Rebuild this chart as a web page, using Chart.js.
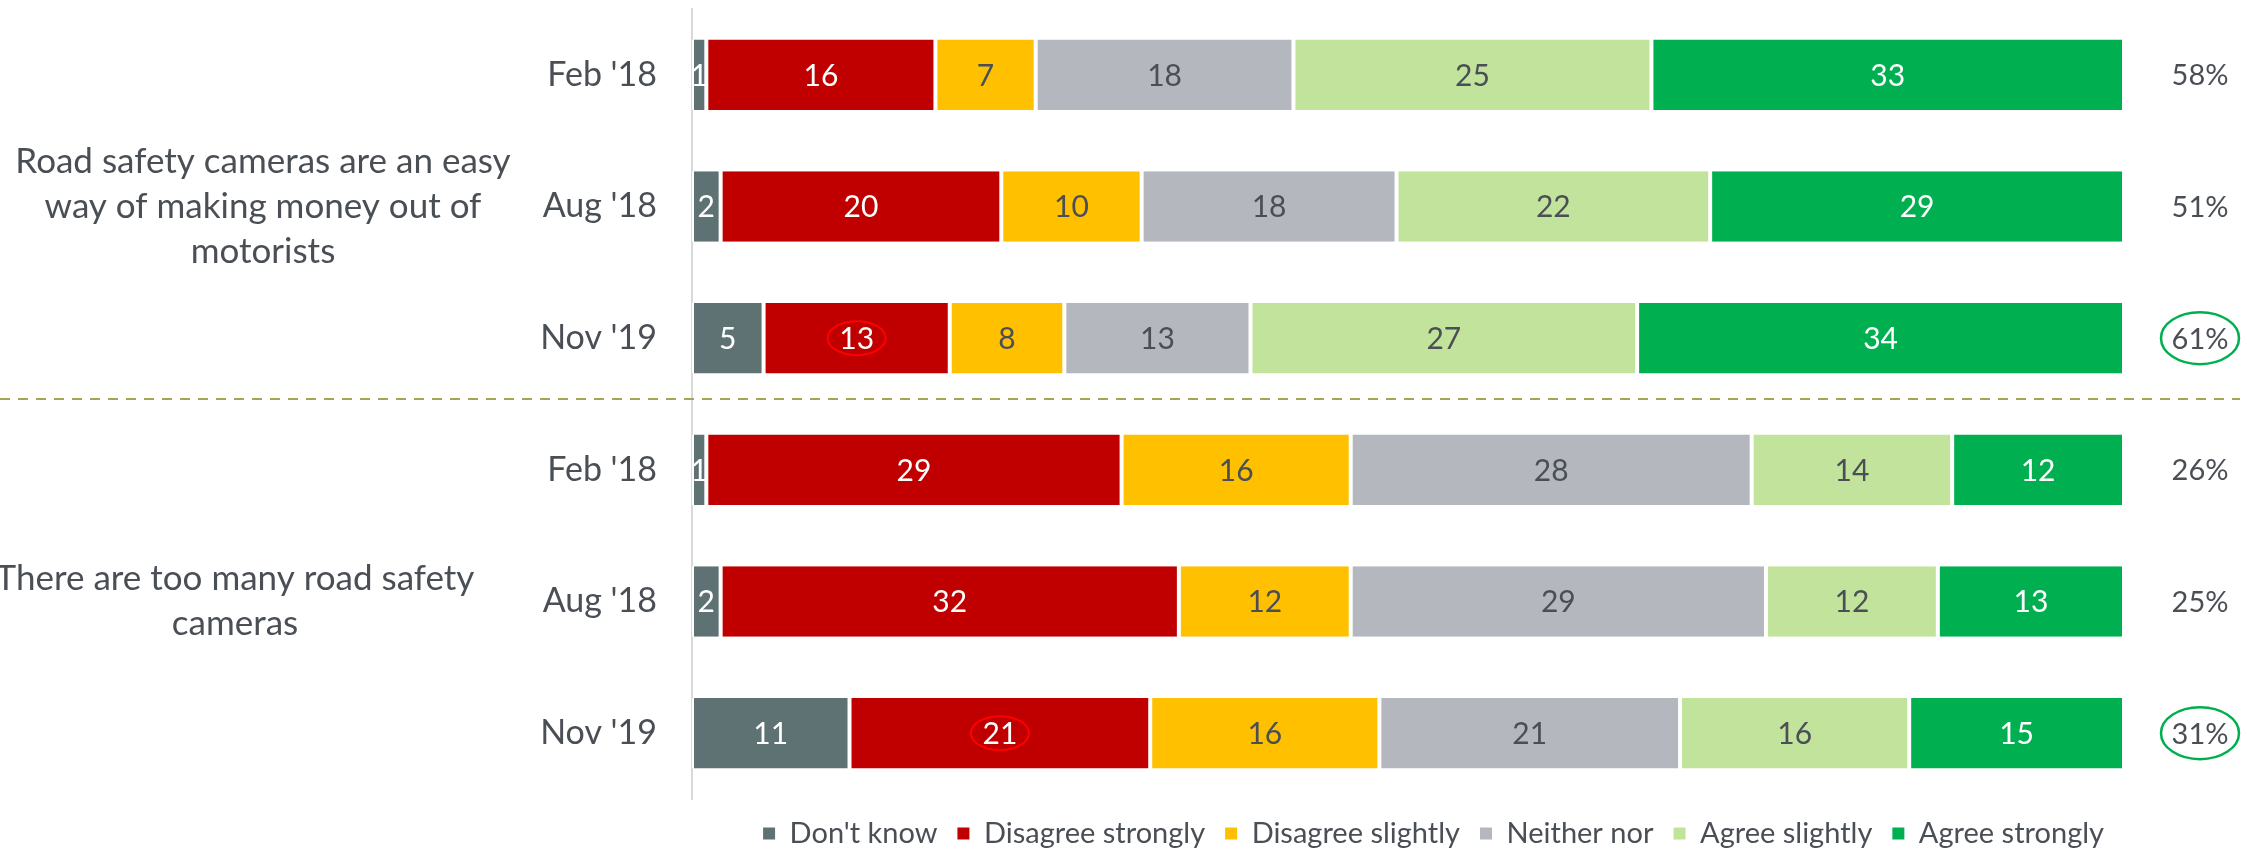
<!DOCTYPE html>
<html>
<head>
<meta charset="utf-8">
<script src="https://cdn.jsdelivr.net/npm/chart.js@4"></script>
<style>
  html, body { margin: 0; padding: 0; background: #fff; }
  #wrap { width: 2247px; height: 851px; }
</style>
</head>
<body>
<div id="wrap"><canvas id="surveyChart"></canvas></div>
<script>
const waves = ["Feb '18", "Aug '18", "Nov '19", "Feb '18", "Aug '18", "Nov '19"];
const questions = [
  ['Road safety cameras are an easy', 'way of making money out of', 'motorists'],
  ['There are too many road safety', 'cameras']
];
const dontKnow         = [1, 2.0, 5, 1, 2, 11];
const disagreeStrongly = [16, 19.6, 13, 29, 32, 21];
const disagreeSlightly = [7, 9.8, 8, 16, 12, 16];
const neitherNor       = [18, 17.8, 13, 28, 29, 21];
const agreeSlightly    = [25, 21.9, 27, 14, 12, 16];
const agreeStrongly    = [33, 28.9, 34, 12, 13, 15];
const totalAgree = ['58%', '51%', '61%', '26%', '25%', '31%'];
const highlighted = [2, 5];

const textColor = '#4A4F56';
const font = 'Lato, "Open Sans", sans-serif';

function series(label, data, color, labelColor) {
  return {
    label: label,
    data: data,
    backgroundColor: color,
    borderColor: '#ffffff',
    borderWidth: {left: 2, right: 2, top: 0, bottom: 0},
    borderSkipped: false,
    labelColor: labelColor,
    categoryPercentage: 1,
    barPercentage: 0.535
  };
}

// numbers in segments, totals on the right, question texts, separators
const overlay = {
  id: 'overlay',
  afterDatasetsDraw(chart) {
    const ctx = chart.ctx;
    const area = chart.chartArea;
    const y = chart.scales.y;
    ctx.save();
    ctx.textAlign = 'center';
    ctx.textBaseline = 'middle';

    ctx.font = '30px ' + font;
    chart.data.datasets.forEach((ds, di) => {
      chart.getDatasetMeta(di).data.forEach((bar, i) => {
        ctx.fillStyle = ds.labelColor;
        ctx.fillText(Math.round(ds.data[i]), (bar.x + bar.base) / 2, bar.y + 1);
      });
    });

    // red rings on disagree strongly
    const red = chart.getDatasetMeta(1).data;
    ctx.strokeStyle = '#FF0000';
    ctx.lineWidth = 2;
    highlighted.forEach(i => {
      ctx.beginPath();
      ctx.ellipse((red[i].x + red[i].base) / 2, red[i].y, 29, 17, 0, 0, Math.PI * 2);
      ctx.stroke();
    });

    // totals
    ctx.font = '29px ' + font;
    ctx.fillStyle = textColor;
    const tx = area.right + 76;
    totalAgree.forEach((t, i) => {
      ctx.fillText(t, tx, y.getPixelForValue(i) + 1);
    });
    ctx.strokeStyle = '#00B050';
    ctx.lineWidth = 2.5;
    highlighted.forEach(i => {
      ctx.beginPath();
      ctx.ellipse(tx, y.getPixelForValue(i), 39, 26, 0, 0, Math.PI * 2);
      ctx.stroke();
    });

    // question texts
    ctx.font = '35px ' + font;
    ctx.fillStyle = textColor;
    const qx = [263, 235];
    questions.forEach((lines, q) => {
      const cy = y.getPixelForValue(1 + q * 3);
      lines.forEach((line, k) => {
        ctx.fillText(line, qx[q], cy + (k - (lines.length - 1) / 2) * 45);
      });
    });

    // dashed separator
    const sy = (y.getPixelForValue(2) + y.getPixelForValue(3)) / 2 - 5;
    ctx.strokeStyle = '#A5A552';
    ctx.lineWidth = 2;
    ctx.setLineDash([10, 8]);
    ctx.beginPath();
    ctx.moveTo(0, sy);
    ctx.lineTo(area.right + 116, sy);
    ctx.stroke();
    ctx.restore();
  }
};

new Chart(document.getElementById('surveyChart'), {
  type: 'bar',
  data: {
    labels: waves,
    datasets: [
      series("Don't know", dontKnow, '#5F7273', '#ffffff'),
      series('Disagree strongly', disagreeStrongly, '#C00000', '#ffffff'),
      series('Disagree slightly', disagreeSlightly, '#FFC000', textColor),
      series('Neither nor', neitherNor, '#B4B7BE', textColor),
      series('Agree slightly', agreeSlightly, '#C2E39B', textColor),
      series('Agree strongly', agreeStrongly, '#00B050', '#ffffff')
    ]
  },
  options: {
    indexAxis: 'y',
    responsive: true,
    maintainAspectRatio: false,
    animation: false,
    layout: { padding: { top: 9, right: 123, bottom: -7, left: 0 } },
    scales: {
      x: { stacked: true, min: 0, max: 100, display: false },
      y: {
        stacked: true,
        grid: { display: false, drawTicks: false },
        border: { display: true, color: '#D9D9D9', width: 2 },
        ticks: { color: textColor, font: { family: font, size: 34 }, padding: 35 },
        afterFit(scale) {
          scale.width = 692;
          scale.paddingTop = 0;
          scale.paddingBottom = 0;
        }
      }
    },
    plugins: {
      tooltip: { enabled: false },
      legend: {
        position: 'bottom',
        align: 'end',
        labels: {
          color: textColor,
          font: { family: font, size: 29 },
          boxWidth: 12,
          boxHeight: 12,
          padding: 20,
          generateLabels(chart) {
            return Chart.defaults.plugins.legend.labels.generateLabels(chart)
              .map(l => Object.assign(l, { lineWidth: 0 }));
          }
        }
      }
    }
  },
  plugins: [overlay]
});
</script>
</body>
</html>
